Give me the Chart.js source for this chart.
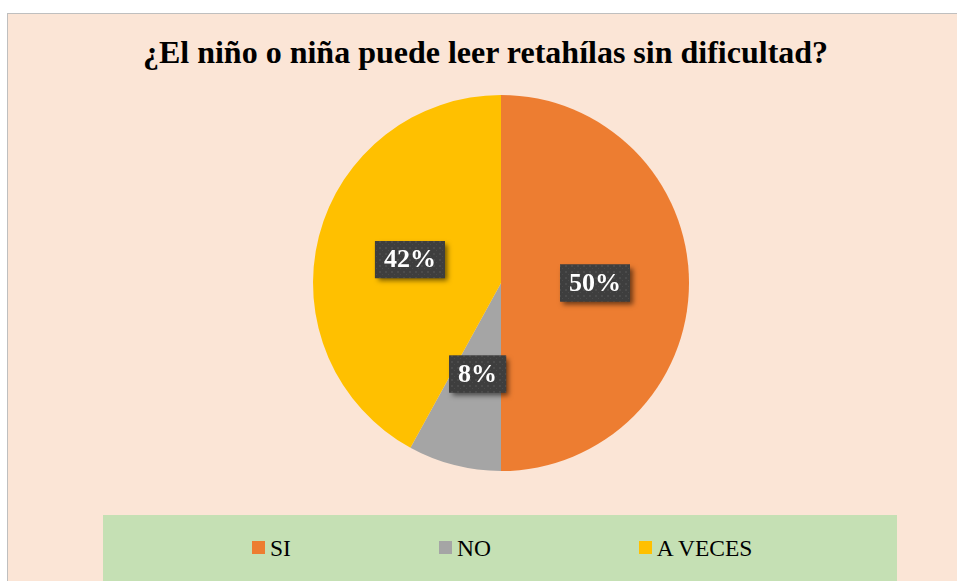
<!DOCTYPE html>
<html>
<head>
<meta charset="utf-8">
<script src="https://cdn.jsdelivr.net/npm/chart.js@4/dist/chart.umd.min.js"></script>
<style>
  html, body { margin: 0; padding: 0; background: #ffffff; }
  body { width: 957px; height: 581px; position: relative; overflow: hidden; font-family: "Liberation Serif", "Times New Roman", serif; }
  #frame { position: absolute; left: 7px; top: 13px; width: 960px; height: 580px; background: #fbe5d6; border-left: 1px solid #bfbfbf; border-top: 1px solid #bfbfbf; }
  #title { position: absolute; left: 0; top: 34px; width: 971px; text-align: center; font-weight: bold; font-size: 32px; line-height: 36px; color: #000; white-space: nowrap; }
  #legend { position: absolute; left: 103px; top: 515px; width: 794px; height: 70px; background: #c5e0b4; }
  #legend ul { list-style: none; margin: 0; padding: 0 0 0 149px; position: absolute; top: 20px; display: flex; align-items: center; gap: 148px; }
  #legend li { display: flex; align-items: center; font-size: 23.5px; line-height: 26px; color: #000; }
  #legend span.box { display: inline-block; width: 13px; height: 13px; margin-right: 5px; margin-top: -2px; }
  #wrap { position: absolute; left: 0; top: 0; width: 957px; height: 581px; }
</style>
</head>
<body>
<div id="frame"></div>
<div id="title">¿El niño o niña puede leer retahílas sin dificultad?</div>
<div id="wrap"><canvas id="chart"></canvas></div>
<div id="legend"><ul id="legend-list"></ul></div>
<script>
  var categories = ["SI", "NO", "A VECES"];
  var percentages = [50, 8, 42];
  var sliceColors = ["#ed7d31", "#a5a5a5", "#ffc000"];

  function labelPattern(ctx) {
    var p = document.createElement("canvas");
    p.width = 6;
    p.height = 6;
    var c = p.getContext("2d");
    c.fillStyle = "#3e3e3e";
    c.fillRect(0, 0, 6, 6);
    c.fillStyle = "#4b4b4b";
    c.fillRect(1, 1, 2, 2);
    c.fillRect(4, 4, 1, 1);
    return ctx.createPattern(p, "repeat");
  }

  // dark boxed percentage labels in the middle of each slice
  var boxLabels = {
    id: "boxLabels",
    afterDatasetsDraw: function (chart) {
      var ctx = chart.ctx;
      var meta = chart.getDatasetMeta(0);
      var fill = labelPattern(ctx);
      ctx.save();
      ctx.font = "bold 26px 'Liberation Serif', 'Times New Roman', serif";
      ctx.textAlign = "center";
      ctx.textBaseline = "middle";
      meta.data.forEach(function (arc, i) {
        var p = arc.getProps(["x", "y", "startAngle", "endAngle", "outerRadius"], true);
        var mid = (p.startAngle + p.endAngle) / 2;
        var r = p.outerRadius * 0.5;
        var cx = p.x + Math.cos(mid) * r;
        var cy = p.y + Math.sin(mid) * r;
        var text = percentages[i] + "%";
        var w = ctx.measureText(text).width + 18;
        var h = 37;
        ctx.save();
        ctx.shadowColor = "rgba(0,0,0,0.55)";
        ctx.shadowBlur = 5;
        ctx.shadowOffsetX = 3;
        ctx.shadowOffsetY = 3;
        ctx.fillStyle = "#3e3e3e";
        ctx.fillRect(cx - w / 2, cy - h / 2, w, h);
        ctx.restore();
        ctx.fillStyle = fill;
        ctx.fillRect(cx - w / 2, cy - h / 2, w, h);
        ctx.fillStyle = "#ffffff";
        ctx.fillText(text, cx, cy + 1);
      });
      ctx.restore();
    }
  };

  new Chart(document.getElementById("chart"), {
    type: "pie",
    data: {
      labels: categories,
      datasets: [
        {
          data: percentages,
          backgroundColor: sliceColors,
          borderWidth: 0,
        },
      ],
    },
    options: {
      responsive: true,
      maintainAspectRatio: false,
      animation: false,
      events: [],
      layout: { padding: { left: 313, right: 268, top: 95, bottom: 110 } },
      plugins: {
        legend: { display: false },
        title: { display: false },
        tooltip: { enabled: false },
      },
    },
    plugins: [boxLabels],
  });

  var list = document.getElementById("legend-list");
  categories.forEach(function (name, i) {
    var li = document.createElement("li");
    var box = document.createElement("span");
    box.className = "box";
    box.style.background = sliceColors[i];
    li.appendChild(box);
    li.appendChild(document.createTextNode(name));
    list.appendChild(li);
  });
</script>
</body>
</html>
